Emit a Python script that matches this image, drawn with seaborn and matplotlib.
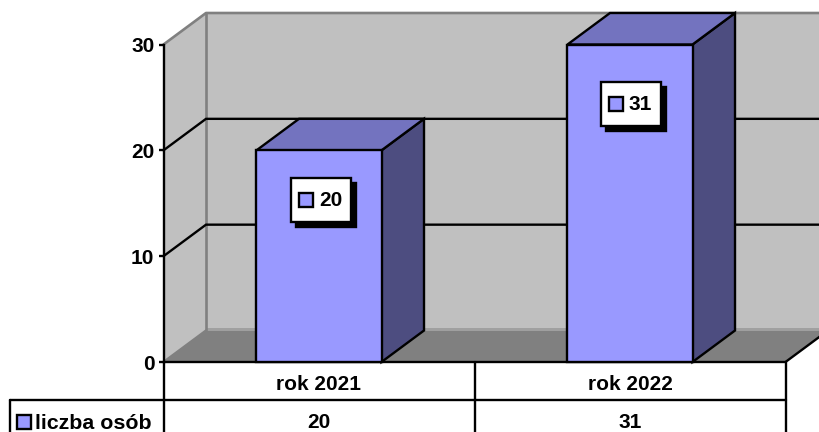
import numpy as np
import pandas as pd
import matplotlib
matplotlib.use("Agg")
import matplotlib.pyplot as plt
from matplotlib.patches import Polygon, Rectangle
import seaborn as sns

categories = ["rok 2021", "rok 2022"]
values = [20, 31]
series_name = "liczba osób"
y_ticks = [0, 10, 20, 30]

W, H = 819, 432
AX_L, AX_R, AX_B, AX_T = 163.5, 785.5, 362.0, 44.5
DX, DY = 42.5, 31.5
Y_MAX = 30
FRONT, SIDE, TOP = "#9999FF", "#4D4D80", "#7373BF"
WALL, FLOOR, EDGE = "#C0C0C0", "#808080", "#808080"
LW = 1.7
FS = 15

sns.set_theme(style="white")
plt.rcParams["font.family"] = ["Liberation Sans", "DejaVu Sans"]
plt.rcParams["font.weight"] = "bold"

fig = plt.figure(figsize=(W / 100, H / 100), dpi=100, facecolor="white")

# pixel overlay for the walls and the data table
bg = fig.add_axes([0, 0, 1, 1], zorder=0)
bg.set_xlim(0, W)
bg.set_ylim(H, 0)
bg.axis("off")

ax = fig.add_axes([AX_L / W, 1 - AX_B / H, (AX_R - AX_L) / W, (AX_B - AX_T) / H], zorder=1)
ax.patch.set_alpha(0)

over = fig.add_axes([0, 0, 1, 1], zorder=2)
over.set_xlim(0, W)
over.set_ylim(H, 0)
over.axis("off")

def ypx(v):
    return AX_B - (AX_B - AX_T) * v / Y_MAX

# walls and floor
bg.add_patch(Polygon([(AX_L, AX_B), (AX_L + DX, AX_B - DY), (AX_L + DX, AX_T - DY), (AX_L, AX_T)],
                     fc=WALL, ec="none"))
bg.add_patch(Rectangle((AX_L + DX, AX_T - DY), W, AX_B - AX_T, fc=WALL, ec="none"))
bg.add_patch(Polygon([(AX_L, AX_B), (AX_R, AX_B), (AX_R + DX, AX_B - DY), (AX_L + DX, AX_B - DY)],
                     fc=FLOOR, ec="none"))
bg.plot([AX_L + DX, W], [AX_B - DY - 1.5] * 2, color="#A0A0A0", lw=1.4, solid_capstyle="butt")
bg.plot([AX_L, AX_L + DX], [AX_B, AX_B - DY], color=EDGE, lw=LW)
bg.plot([AX_L, AX_L + DX, W], [AX_T, AX_T - DY, AX_T - DY], color=EDGE, lw=LW + 0.2)
bg.plot([AX_L + DX] * 2, [AX_T - DY, AX_B - DY], color=EDGE, lw=LW + 0.2)
bg.plot([AX_R, AX_R + DX], [AX_B, AX_B - DY], color="black", lw=LW)
for t in y_ticks[1:-1]:
    y = ypx(t)
    bg.plot([AX_L, AX_L + DX, W], [y, y - DY, y - DY], color="black", lw=LW, solid_joinstyle="miter")

# front faces of the bars, through seaborn
df = pd.DataFrame({"category": categories, "shown": np.minimum(values, Y_MAX)})
sns.barplot(data=df, x="category", y="shown", color=FRONT, saturation=1, width=0.402,
            edgecolor="black", linewidth=LW, ax=ax, zorder=3)
ax.set_xlim(-0.5, len(categories) - 0.5)
ax.set_ylim(0, Y_MAX)
ax.set_yticks(y_ticks)
ax.set_xticks([])
ax.set_xlabel("")
ax.set_ylabel("")
ax.tick_params(axis="y", length=3.6, width=LW, color="black", labelsize=FS, pad=3.0, left=True)
for lab in ax.get_yticklabels():
    lab.set_fontweight("bold")
    lab.set_color("black")
for name, sp in ax.spines.items():
    sp.set_visible(name in ("left", "bottom"))
    sp.set_color("black")
    sp.set_linewidth(LW)
    sp.set_zorder(2.5)

# side and top faces follow each seaborn bar
xunit = len(categories) / (AX_R - AX_L)
yunit = Y_MAX / (AX_B - AX_T)
ddx, ddy = DX * xunit, DY * yunit
for bar in ax.patches[:len(categories)]:
    x0, w, h = bar.get_x(), bar.get_width(), bar.get_height()
    x1 = x0 + w
    ax.add_patch(Polygon([(x1, 0), (x1 + ddx, ddy), (x1 + ddx, h + ddy), (x1, h)],
                         fc=SIDE, ec="black", lw=LW, clip_on=False, zorder=2.8, joinstyle="miter"))
    ax.add_patch(Polygon([(x0, h), (x1, h), (x1 + ddx, h + ddy), (x0 + ddx, h + ddy)],
                         fc=TOP, ec="black", lw=LW, clip_on=False, zorder=2.8, joinstyle="miter"))
    bar.set_clip_on(False)

# data labels with a hard shadow
BOX_W, BOX_H, SHADOW = 60, 44, 5
label_y = [200.0, 103.5]
label_x = [321.0, 630.5]
for i, v in enumerate(values):
    cx, cy = label_x[i], label_y[i]
    l, t = cx - BOX_W / 2, cy - BOX_H / 2
    over.add_patch(Rectangle((l + SHADOW, t + SHADOW), BOX_W, BOX_H, fc="black", ec="black", lw=LW))
    over.add_patch(Rectangle((l, t), BOX_W, BOX_H, fc="white", ec="black", lw=LW, zorder=2))
    over.add_patch(Rectangle((l + 8, cy - 7), 14, 14, fc=FRONT, ec="black", lw=LW, zorder=3))
    over.text(l + 28, cy - 1, str(v), ha="left", va="center_baseline", fontsize=FS, fontweight="bold",
              color="black", zorder=3)

# data table below the plot
ROW1, ROW2 = 400.0, 432.0
LEG_L = 9.5
centers = [AX_L + (AX_R - AX_L) * (i + 0.5) / len(categories) for i in range(len(categories))]
bg.plot([AX_L, AX_L], [AX_B, ROW2], color="black", lw=LW)
for i in range(1, len(categories) + 1):
    x = AX_L + (AX_R - AX_L) * i / len(categories)
    bg.plot([x, x], [AX_B, ROW2], color="black", lw=LW)
bg.plot([LEG_L, AX_R], [ROW1, ROW1], color="black", lw=LW)
bg.plot([LEG_L, LEG_L], [ROW1, ROW2], color="black", lw=LW)
for c, cat, v in zip(centers, categories, values):
    bg.text(c, 382, cat, ha="center", va="center_baseline", fontsize=FS, fontweight="bold", color="black")
    bg.text(c, 420, str(v), ha="center", va="center_baseline", fontsize=FS, fontweight="bold", color="black")
bg.add_patch(Rectangle((16.5, 415), 14, 14, fc=FRONT, ec="black", lw=LW))
bg.text(35, 421.5, series_name, ha="left", va="center_baseline", fontsize=15.4, fontweight="bold", color="black")

fig.savefig("out.png", dpi=100)
